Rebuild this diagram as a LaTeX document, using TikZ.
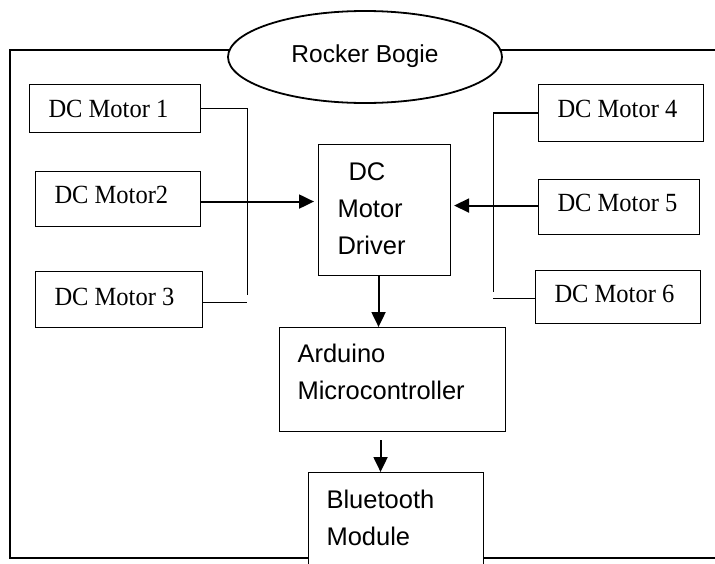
\documentclass[tikz,border=0pt]{standalone}
\usepackage{fontspec}
\usepackage{graphicx}
\setmainfont{Liberation Serif}
\newfontfamily\sansf{Liberation Sans}
\usetikzlibrary{shapes.geometric,arrows.meta,calc}
\newcommand{\mtext}[2]{\scalebox{1}[1.07]{\makebox[#1][l]{#2}}}
\begin{document}
\begin{tikzpicture}[x=1pt,y=-1pt,
  box/.style={draw, line width=1.1pt, rectangle, inner ysep=0pt, fill=white, anchor=north west},
  motor/.style={box, inner xsep=19pt, font=\fontsize{24.5}{29}\selectfont, text height=18pt},
  sansbox/.style={box, align=left, font=\sansf\fontsize{25.5}{37}\selectfont, text height=19pt},
  thinline/.style={line width=1pt},
  thickline/.style={line width=1.8pt},
  arr/.style={line width=2pt, -{Triangle[length=15pt,width=14pt]}},
]
\useasboundingbox (0,0) rectangle (715,563);
\clip (0,0) rectangle (715,563);

% outer frame
\draw[line width=2pt] (740,50) -- (10,50) -- (10,558) -- (740,558);

% title ellipse
\node[ellipse, draw, line width=1.8pt, fill=white, inner sep=0pt,
      minimum width=274pt, minimum height=92pt,
      font=\sansf\fontsize{24.5}{29}\selectfont, text height=19pt, text depth=9pt]
      (title) at (365,57) {Rocker Bogie};

% motors
\node[motor, minimum width=171pt, minimum height=48pt, text depth=0pt] (m1) at (29,84) {\mtext{133pt}{DC Motor 1}};
\node[motor, minimum width=165pt, minimum height=55pt, text depth=9pt] (m2) at (35,171) {\mtext{127pt}{DC Motor2}};
\node[motor, minimum width=167pt, minimum height=56pt, text depth=6pt] (m3) at (35,271) {\mtext{129pt}{DC Motor 3}};
\node[motor, minimum width=165pt, minimum height=57pt, text depth=9pt] (m4) at (538,84) {\mtext{127pt}{DC Motor 4}};
\node[motor, minimum width=161pt, minimum height=55pt, text depth=9pt] (m5) at (538,179) {\mtext{123pt}{DC Motor 5}};
\node[motor, minimum width=165pt, minimum height=53pt, text depth=7pt] (m6) at (535,270) {\mtext{127pt}{DC Motor 6}};

% driver, controller, bluetooth
\node[sansbox, inner xsep=19pt, minimum width=132pt, minimum height=131pt, text width=94pt, text depth=78pt]
      (drv) at (318,144) {\hspace*{11pt}DC\\Motor\\Driver};
\node[sansbox, inner xsep=18pt, minimum width=226pt, minimum height=104pt, text width=190pt, text depth=53pt]
      (ard) at (279,327) {Arduino\\Microcontroller};
\node[sansbox, inner xsep=18pt, minimum width=175pt, minimum height=128pt, text width=139pt, text depth=75pt]
      (bt) at (308,472) {Bluetooth\\Module};

% left bus
\coordinate (ltop) at (247,108);
\coordinate (lbot) at (247,295);
\draw[thinline] (ltop) -- (lbot);
\draw[thinline] (m1.east) -- (m1.east -| ltop);
\draw[thickline] ([yshift=-3pt]m3.east) -- ([yshift=-3pt]m3.east -| ltop);
\draw[arr, shorten >=4pt] ([yshift=-2.5pt]m2.east) -- ([yshift=-2.5pt]m2.east -| drv.west);

% right bus
\coordinate (rtop) at (493,112);
\coordinate (rbot) at (493,292);
\draw[thinline] (rtop) -- (rbot);
\draw[thickline] (m4.west) -- (m4.west -| rtop);
\draw[thickline] ([yshift=-1.5pt]m6.west) -- ([yshift=-1.5pt]m6.west -| rtop);
\draw[arr, shorten >=3pt] ([yshift=1.5pt]m5.west) -- ([yshift=1.5pt]m5.west -| drv.east);

% vertical flow
\draw[arr] ([xshift=-6pt]drv.south) -- ([xshift=-6pt]drv.south |- ard.north);
\draw[arr] ([xshift=-12pt,yshift=-8pt]ard.south) -- ([xshift=-12pt]ard.south |- bt.north);
\end{tikzpicture}
\end{document}
